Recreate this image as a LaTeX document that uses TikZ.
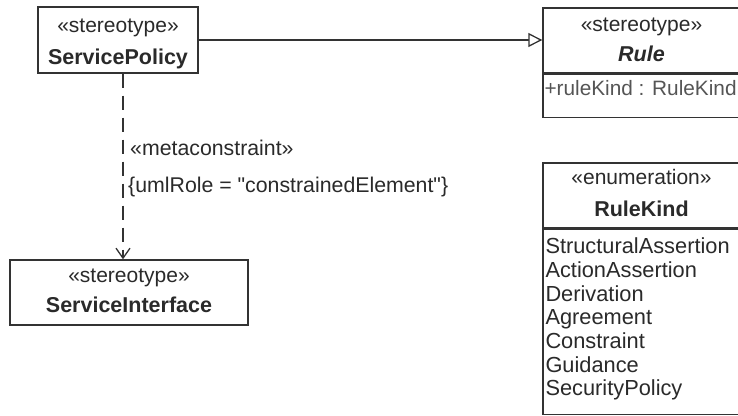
\documentclass[tikz,border=0pt]{standalone}
\usepackage{fontspec}
\setmainfont{Liberation Sans}
\usetikzlibrary{arrows.meta, calc, positioning}

\definecolor{umlLine}{HTML}{333333}
\definecolor{umlText}{HTML}{2A2A2A}
\definecolor{umlGray}{HTML}{555555}

\begin{document}
\begin{tikzpicture}[
    x=1pt, y=-1pt,
    % Box Styles
    umlbox/.style={rectangle, draw=umlLine, line width=1.4pt, fill=white, inner sep=0pt},
    % Text Styles
    stereo/.style={font=\fontsize{21}{25}\selectfont, text=umlText, inner sep=0pt},
    classname/.style={font=\fontsize{21.5}{25}\selectfont\bfseries, text=umlText, inner sep=0pt},
    member/.style={font=\fontsize{21.8}{25}\selectfont, text=umlText, inner sep=0pt, anchor=base west},
    lbl/.style={font=\fontsize{21.3}{24}\selectfont, text=umlText, inner sep=0pt, anchor=base west},
    % Connector Styles
    gen/.style={draw=umlLine, line width=1.3pt, -{Triangle[open, length=14pt, width=14pt, fill=white]}},
    dep/.style={draw=umlLine, line width=1.3pt, dash pattern=on 14pt off 8pt, -{Straight Barb[length=10pt, width=14pt]}}
]

\useasboundingbox (0,0) rectangle (738,415);
\fill[white] (0,0) rectangle (738,415);
\clip (0,0) rectangle (738,415);

% =========================================================
% LEFT: ServicePolicy and ServiceInterface
% =========================================================
\node[umlbox, minimum width=160pt, minimum height=66pt] (policy) at (118,40) {};
\node[stereo, anchor=base] (policyStereo) at ($(policy.north)+(0,26)$) {«stereotype»};
\node[classname, anchor=base] (policyName) at ($(policy.north)+(0,58)$) {ServicePolicy};

\node[umlbox, minimum width=238pt, minimum height=65pt] (iface) at (129,292.5) {};
\node[stereo, anchor=base] (ifaceStereo) at ($(iface.north)+(0,23)$) {«stereotype»};
\node[classname, anchor=base] (ifaceName) at ($(iface.north)+(0,53)$) {ServiceInterface};

% =========================================================
% RIGHT: Rule and RuleKind
% =========================================================
\node[umlbox, minimum width=197pt, minimum height=65pt] (rule) at (641.5,40.5) {};
\node[stereo, anchor=base] (ruleStereo) at ($(rule.north)+(0,24)$) {«stereotype»};
\node[classname, anchor=base, font=\fontsize{21.5}{25}\selectfont\bfseries\itshape] (ruleName) at ($(rule.north)+(0,54)$) {Rule};
\node[umlbox, minimum width=197pt, minimum height=43pt, below=0pt of rule] (ruleAttr) {};
\node[member, text=umlGray, font=\fontsize{20.8}{25}\selectfont] (ruleKindAttr) at ($(ruleAttr.north west)+(2,22)$) {+ruleKind : RuleKind};

\node[umlbox, minimum width=197pt, minimum height=65pt] (kind) at (641.5,195.5) {};
\node[stereo, anchor=base] (kindStereo) at ($(kind.north)+(0,22)$) {«enumeration»};
\node[classname, anchor=base] (kindName) at ($(kind.north)+(0,54)$) {RuleKind};
\node[umlbox, minimum width=197pt, minimum height=185pt, below=0pt of kind] (kindLits) {};

\foreach \lit [count=\i] in {StructuralAssertion, ActionAssertion, Derivation, Agreement, Constraint, Guidance, SecurityPolicy} {
    \node[member] (lit\i) at ($(kindLits.north west)+(3,25+23.67*\i-23.67)$) {\lit};
}

% =========================================================
% CONNECTORS
% =========================================================
\draw[gen] (policy.east) -- (policy.east -| rule.west);

\coordinate (depLine) at (123,0);
\draw[dep] (policy.south -| depLine) -- (iface.north -| depLine);
\node[lbl] (depStereo) at (130,155) {«metaconstraint»};
\node[lbl] (depTag) at (128,192) {\{umlRole = \textquotedbl constrainedElement\textquotedbl\}};

\end{tikzpicture}
\end{document}
